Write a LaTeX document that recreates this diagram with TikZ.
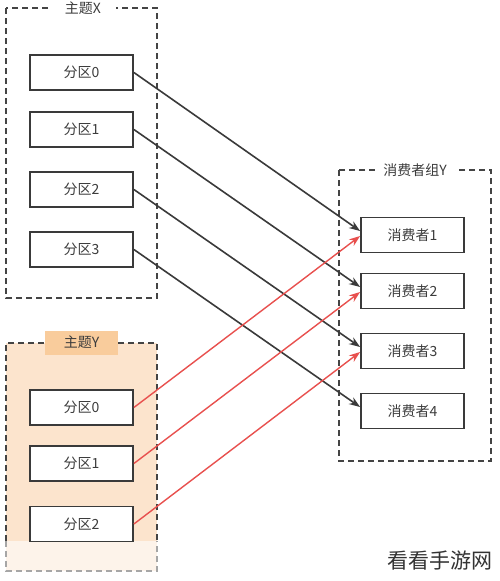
\documentclass[tikz,border=0pt]{standalone}
\usepackage{fontspec}
\setmainfont{Noto Sans CJK SC}
\usetikzlibrary{arrows.meta}
\definecolor{boxline}{HTML}{3A3A3A}
\definecolor{dashline}{HTML}{444444}
\definecolor{topicfill}{HTML}{FCE4CD}
\definecolor{topicfade}{HTML}{FDF3EA}
\definecolor{labelfill}{HTML}{F9CC9C}
\definecolor{redline}{HTML}{E8504E}
\definecolor{txt}{HTML}{3C3C3C}
\begin{document}
\begin{tikzpicture}[x=1pt,y=-1pt,
  part/.style={draw=boxline,line width=1.8pt,fill=white,minimum width=103pt,minimum height=35pt,inner sep=0pt,font=\fontsize{14}{16}\selectfont,text=txt},
  group/.style={draw=dashline,line width=1.4pt,dash pattern=on 6pt off 4pt},
  glabel/.style={inner sep=2pt,font=\fontsize{14}{16}\selectfont,text=txt},
  blk/.style={draw=boxline,line width=1.6pt,-{Stealth[length=11pt,width=8pt]}},
  red/.style={draw=redline,line width=1.4pt,-{Stealth[length=11pt,width=8pt]}}]
\useasboundingbox (0,0) rectangle (500,581);
\fill[white] (0,0) rectangle (500,581);
% Topic X
\draw[group] (6,8) rectangle (157,298);
\node[glabel,fill=white,minimum width=66pt] (tx) at (83,8) {主题X};
\node[part] (x0) at (81.5,72.5) {分区0};
\node[part] (x1) at (81.5,129.5) {分区1};
\node[part] (x2) at (81.5,189.5) {分区2};
\node[part] (x3) at (81.5,249.5) {分区3};
% Topic Y
\fill[topicfill] (6,343) rectangle (157,541);
\fill[topicfade] (6,541) rectangle (157,571);
\draw[group] (6,541) -- (6,343) -- (157,343) -- (157,541);
\draw[group,draw=gray!70] (6,541) -- (6,571) -- (157,571) -- (157,541);
\node[glabel,fill=labelfill,minimum width=73pt,minimum height=24pt] (ty) at (81.5,342.5) {主题Y};
\node[part] (y0) at (81.5,407.5) {分区0};
\node[part] (y1) at (81.5,463.5) {分区1};
\node[part] (y2) at (81.5,524) {分区2};
% Consumer group
\draw[group] (339,170) rectangle (491,461);
\node[glabel,fill=white,minimum width=80pt] (cg) at (415,170) {消费者组Y};
\node[part] (c1) at (412.5,235) {消费者1};
\node[part] (c2) at (412.5,291) {消费者2};
\node[part] (c3) at (412.5,351) {消费者3};
\node[part] (c4) at (412.5,411) {消费者4};
% arrows
\draw[blk] (x0.east) -- ([yshift=4pt]c1.west);
\draw[blk] (x1.east) -- ([yshift=4pt]c2.west);
\draw[blk] (x2.east) -- ([yshift=4pt]c3.west);
\draw[blk] (x3.east) -- ([yshift=4pt]c4.west);
\draw[red] (y0.east) -- ([yshift=-1pt]c1.west);
\draw[red] (y1.east) -- ([yshift=-1pt]c2.west);
\draw[red] (y2.east) -- ([yshift=-1pt]c3.west);
% watermark
\node[inner sep=0pt,font=\fontsize{21}{24}\selectfont,text=black!80] (wm) at (440,561) {看看手游网};
\end{tikzpicture}
\end{document}
